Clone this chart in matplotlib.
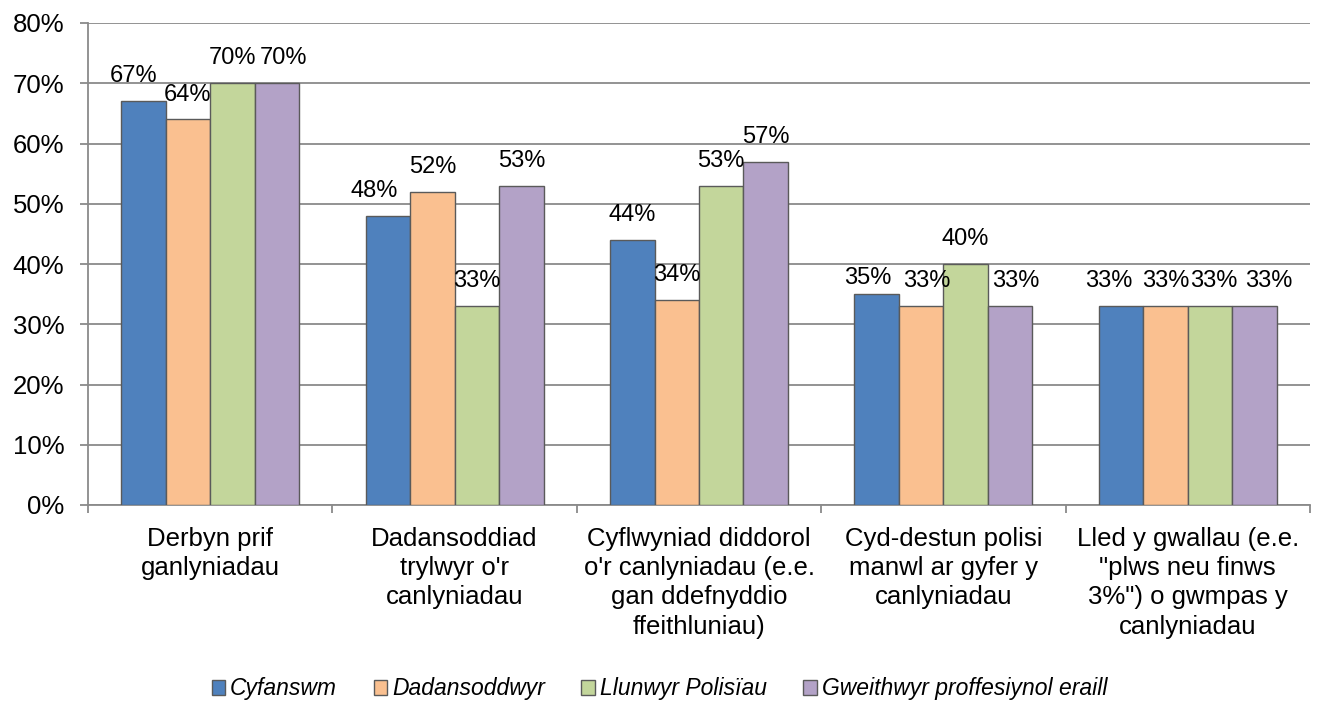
import matplotlib.pyplot as plt
import numpy as np

categories = [
    "Derbyn prif\nganlyniadau",
    "Dadansoddiad\ntrylwyr o'r\ncanlyniadau",
    "Cyflwyniad diddorol\no'r canlyniadau (e.e.\ngan ddefnyddio\nffeithluniau)",
    "Cyd-destun polisi\nmanwl ar gyfer y\ncanlyniadau",
    "Lled y gwallau (e.e.\n\"plws neu finws\n3%\") o gwmpas y\ncanlyniadau",
]
series_names = ["Cyfanswm", "Dadansoddwyr", "Llunwyr Polisïau", "Gweithwyr proffesiynol eraill"]
cyfanswm = [67, 48, 44, 35, 33]
dadansoddwyr = [64, 52, 34, 33, 33]
llunwyr = [70, 33, 53, 40, 33]
gweithwyr = [70, 53, 57, 33, 33]
yticks = [0, 10, 20, 30, 40, 50, 60, 70, 80]

colors = ["#4F81BD", "#FAC090", "#C3D69B", "#B3A2C7"]
edge = "#5a5a5a"
grid_c = "#8a8a8a"
fs_axis = 18.5
fs_label = 17
fs_legend = 16.5

# (series, group) -> (dx, dy) offsets in points; the original spreads crowded labels
label_offset = {
    (0, 0): (-7, 10), (3, 0): (5, 10),
    (0, 1): (-10, 10),
    (0, 3): (-6.5, 4), (1, 3): (4, 10), (3, 3): (4, 10),
    (0, 4): (-9, 10), (2, 4): (3, 10), (3, 4): (10, 10),
}

plt.rcParams.update({"font.family": ["Liberation Sans", "DejaVu Sans"], "font.size": fs_axis})
fig = plt.figure(figsize=(13.19, 7.02), dpi=100)
ax = fig.add_axes([88 / 1319, 1 - 505 / 702, (1310 - 88) / 1319, (505 - 23) / 702])

x = np.arange(len(categories))
w = 0.182
all_series = [cyfanswm, dadansoddwyr, llunwyr, gweithwyr]
for i, (vals, name, c) in enumerate(zip(all_series, series_names, colors)):
    pos = x + (i - 1.5) * w
    bars = ax.bar(pos, vals, width=w, color=c, edgecolor=edge, linewidth=1.0,
                  label=name, zorder=3)
    for j, (b, v) in enumerate(zip(bars, vals)):
        ax.annotate(f"{v}%", (b.get_x() + b.get_width() / 2, v),
                    xytext=label_offset.get((i, j), (0, 10)), textcoords="offset points",
                    ha="center", va="bottom", fontsize=fs_label, zorder=4)

ax.set_xlim(-0.5, len(categories) - 0.5)
ax.set_ylim(0, 80)
ax.set_yticks(yticks)
ax.set_yticklabels([f"{t}%" for t in yticks])
ax.yaxis.grid(True, color=grid_c, linewidth=1.3, zorder=0)
ax.set_axisbelow(True)

ax.set_xticks(x)
ax.set_xticklabels(categories, linespacing=1.27, va="top")
ax.set_xticks(np.arange(-0.5, len(categories)), minor=True)
ax.tick_params(axis="x", which="major", length=0, pad=16)
ax.tick_params(axis="x", which="minor", length=6, width=1.3, color=grid_c)
ax.tick_params(axis="y", length=6, width=1.3, color=grid_c, pad=11)

for s in ["top", "right"]:
    ax.spines[s].set_visible(False)
for s in ["left", "bottom"]:
    ax.spines[s].set_color(grid_c)
    ax.spines[s].set_linewidth(1.3)

leg = fig.legend(loc="center", bbox_to_anchor=(0.5, 1 - 689 / 702), ncol=4, frameon=False,
                 prop={"style": "italic", "size": fs_legend}, handlelength=0.6, handleheight=0.6,
                 handletextpad=0.2, columnspacing=1.6)

fig.savefig("out.png", dpi=100)
